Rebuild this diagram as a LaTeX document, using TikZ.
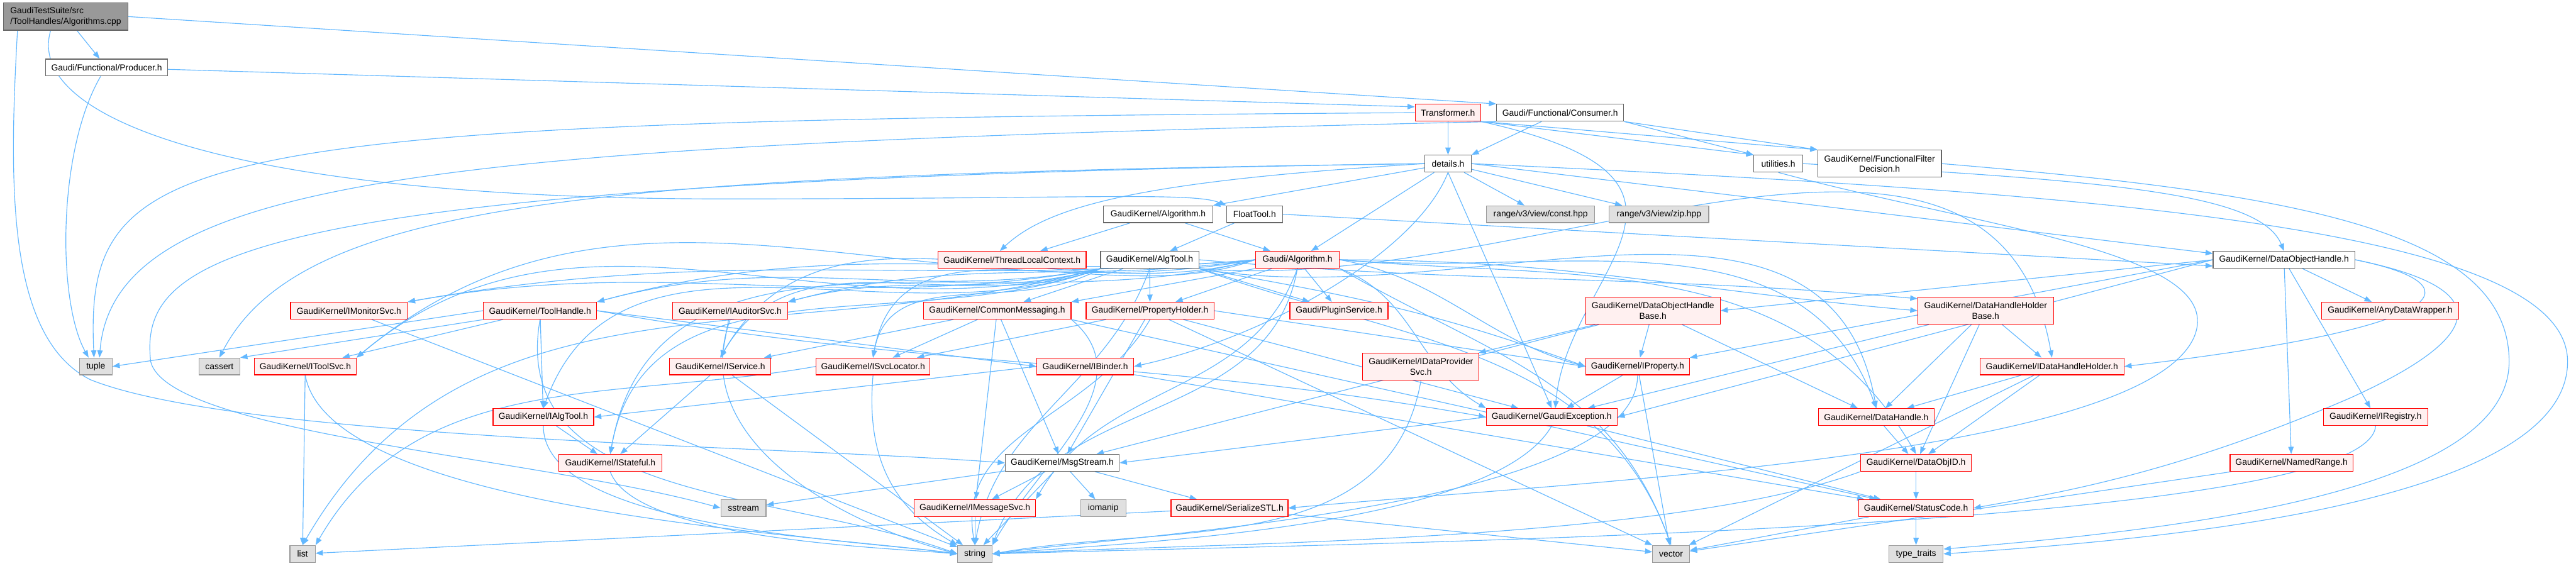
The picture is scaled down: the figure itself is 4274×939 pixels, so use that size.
\documentclass[tikz,border=0pt]{standalone}
\usepackage{fontspec}
\setmainfont{Liberation Sans}
\usetikzlibrary{arrows.meta,backgrounds,calc}
\definecolor{edgec}{HTML}{63B8FF}
\definecolor{redfill}{HTML}{FFF0F0}
\definecolor{grayfill}{HTML}{E0E0E0}
\definecolor{rootfill}{HTML}{999999}
\definecolor{wborder}{HTML}{666666}
\definecolor{gborder}{HTML}{999999}
% curved connector: from, out angle, to, in angle, control distance (pt)
\newcommand\curdep[5]{\draw[dep] (#1) .. controls ($(#1)+(#2:#5pt)$) and ($(#3)+(#4:#5pt)$) .. (#3);}
\begin{document}
\begin{tikzpicture}[x=1pt,y=-1pt,
 nb/.style={rectangle, inner sep=0pt, minimum height=28pt, line width=1.3pt, font=\fontsize{14.5pt}{17pt}\selectfont, align=center},
 wnode/.style={nb, draw=wborder, fill=white},
 rnode/.style={nb, draw=red, fill=redfill},
 gnode/.style={nb, draw=gborder, fill=grayfill},
 rootnode/.style={nb, draw=wborder, fill=rootfill, align=left, minimum height=45pt},
 dep/.style={draw=edgec, line width=1.2pt, -{Triangle[length=12pt,width=9pt]}}
]
\useasboundingbox (0,0) rectangle (4274,939);
% ---------- nodes ----------
\node[rootnode, minimum width=206pt] (root) at (109,27.5) {GaudiTestSuite/src\\/ToolHandles/Algorithms.cpp};
\node[wnode, minimum width=202pt] (prod) at (177,112) {Gaudi/Functional/Producer.h};
\node[rnode, minimum width=109pt] (trans) at (2402.5,187) {Transformer.h};
\node[wnode, minimum width=211pt] (cons) at (2588.5,187) {Gaudi/Functional/Consumer.h};
\node[wnode, minimum width=77pt] (det) at (2402.5,271.5) {details.h};
\node[wnode, minimum width=81pt] (util) at (2950.5,271.5) {utilities.h};
\node[wnode, minimum width=205pt, minimum height=45pt] (ffd) at (3118.5,271.5) {GaudiKernel/FunctionalFilter\\Decision.h};
\node[wnode, minimum width=181pt] (gkalg) at (1921.5,355.5) {GaudiKernel/Algorithm.h};
\node[wnode, minimum width=93pt] (ftool) at (2081.5,355.5) {FloatTool.h};
\node[gnode, minimum width=180pt] (rconst) at (2556,355.5) {range/v3/view/const.hpp};
\node[gnode, minimum width=165pt] (rzip) at (2752.5,355.5) {range/v3/view/zip.hpp};
\node[rnode, minimum width=246pt] (tlc) at (1679,431) {GaudiKernel/ThreadLocalContext.h};
\node[wnode, minimum width=163pt] (algtool) at (1907.5,431) {GaudiKernel/AlgTool.h};
\node[rnode, minimum width=139pt] (galg) at (2152.5,431) {Gaudi/Algorithm.h};
\node[wnode, minimum width=235pt] (doh) at (3789.5,431) {GaudiKernel/DataObjectHandle.h};
\node[rnode, minimum width=194pt] (imon) at (579,515.5) {GaudiKernel/IMonitorSvc.h};
\node[rnode, minimum width=188pt] (thandle) at (896,515.5) {GaudiKernel/ToolHandle.h};
\node[rnode, minimum width=191pt] (iaud) at (1211.5,515.5) {GaudiKernel/IAuditorSvc.h};
\node[rnode, minimum width=245pt] (cmsg) at (1654.5,515.5) {GaudiKernel/CommonMessaging.h};
\node[rnode, minimum width=212pt] (pholder) at (1908,515.5) {GaudiKernel/PropertyHolder.h};
\node[rnode, minimum width=163pt] (plugin) at (2221.5,515.5) {Gaudi/PluginService.h};
\node[rnode, minimum width=223pt, minimum height=45pt] (dohb) at (2742.5,515.5) {GaudiKernel/DataObjectHandle\\Base.h};
\node[rnode, minimum width=225pt, minimum height=45pt] (dhhb) at (3294.5,515.5) {GaudiKernel/DataHandleHolder\\Base.h};
\node[rnode, minimum width=227pt] (adw) at (3965.5,515.5) {GaudiKernel/AnyDataWrapper.h};
\node[gnode, minimum width=54pt] (tuple) at (159,608) {tuple};
\node[gnode, minimum width=68pt] (cassert) at (364,608) {cassert};
\node[rnode, minimum width=169pt] (itsvc) at (506.5,608) {GaudiKernel/IToolSvc.h};
\node[rnode, minimum width=168pt] (iserv) at (1195,608) {GaudiKernel/IService.h};
\node[rnode, minimum width=189pt] (isvcl) at (1448.5,608) {GaudiKernel/ISvcLocator.h};
\node[rnode, minimum width=161pt] (ibind) at (1800.5,608) {GaudiKernel/IBinder.h};
\node[rnode, minimum width=193pt, minimum height=45pt] (idps) at (2357.5,608.5) {GaudiKernel/IDataProvider\\Svc.h};
\node[rnode, minimum width=172pt] (iprop) at (2717,608) {GaudiKernel/IProperty.h};
\node[rnode, minimum width=239pt] (idhh) at (3404.5,608) {GaudiKernel/IDataHandleHolder.h};
\node[rnode, minimum width=167pt] (ialgt) at (901.5,692) {GaudiKernel/IAlgTool.h};
\node[rnode, minimum width=217pt] (gexc) at (2574.5,692) {GaudiKernel/GaudiException.h};
\node[rnode, minimum width=192pt] (dhandle) at (3113,692) {GaudiKernel/DataHandle.h};
\node[rnode, minimum width=173pt] (ireg) at (3941.5,692) {GaudiKernel/IRegistry.h};
\node[rnode, minimum width=171pt] (istate) at (1012.5,768) {GaudiKernel/IStateful.h};
\node[wnode, minimum width=189pt] (msgs) at (1762.5,768) {GaudiKernel/MsgStream.h};
\node[rnode, minimum width=184pt] (doid) at (3179,768) {GaudiKernel/DataObjID.h};
\node[rnode, minimum width=204pt] (nrange) at (3802,768) {GaudiKernel/NamedRange.h};
\node[gnode, minimum width=75pt] (sstream) at (1233.5,843) {sstream};
\node[rnode, minimum width=201pt] (imsgsvc) at (1617.5,843) {GaudiKernel/IMessageSvc.h};
\node[gnode, minimum width=75pt] (iomanip) at (1830.5,843) {iomanip};
\node[rnode, minimum width=194pt] (sstl) at (2040,843) {GaudiKernel/SerializeSTL.h};
\node[rnode, minimum width=190pt] (scode) at (3179,843) {GaudiKernel/StatusCode.h};
\node[gnode, minimum width=42pt] (list) at (502,919) {list};
\node[gnode, minimum width=57pt] (string) at (1617.5,919) {string};
\node[gnode, minimum width=61pt] (vector) at (2772.5,919) {vector};
\node[gnode, minimum width=90pt] (ttraits) at (3179,919) {type\_traits};
% ---------- edges ----------
\begin{scope}[on background layer]
\fill[white] (0,0) rectangle (4274,939);
% root
\draw[dep] (root) -- (prod);
\draw[dep] (root.east) -- (cons.north west);
\draw[dep] ([xshift=-25pt]root.south) .. controls (40,200) and (400,330) .. (1200,330) .. controls (1800,330) and (1980,318) .. (ftool.north west);
\draw[dep] ([xshift=-80pt]root.south) .. controls (15,300) and (10,560) .. (150,630) .. controls (400,730) and (1300,740) .. (msgs.west);
% producer
\draw[dep] (prod) -- (trans.170);
\draw[dep] ([xshift=-10pt]prod.south) .. controls (95,250) and (95,500) .. ([xshift=-12pt]tuple.north);
% transformer
\draw[dep] (trans) -- (det);
\draw[dep] (trans.south east) -- (util.north west);
\draw[dep] (trans.south east) -- (ffd.north west);
\draw[dep] (trans.west) .. controls (300,200) and (140,240) .. ([xshift=-3pt]tuple.north);
\draw[dep] (trans.south east) .. controls (2900,300) and (2600,450) .. ([xshift=6pt]gexc.north);
% consumer
\draw[dep] (cons) -- (det.north east);
\draw[dep] (cons.south east) -- (util.north west);
\draw[dep] (cons.south east) -- (ffd.north west);
\draw[dep] (cons.south west) .. controls (800,240) and (190,280) .. ([xshift=6pt]tuple.north);
% details
\draw[dep] (det) -- (gkalg.north east);
\draw[dep] (det.west) .. controls (1900,300) and (1740,340) .. ([xshift=-20pt]tlc.north);
\draw[dep] (det) -- (galg);
\draw[dep] (det) -- (rconst);
\draw[dep] (det) -- (rzip);
\draw[dep] (det.south) -- (gexc.north);
\draw[dep] (det.east) -- (doh.175);
\draw[dep] (det.west) .. controls (1000,290) and (500,330) .. (cassert.north);
\draw[dep] (det.west) .. controls (400,300) and (230,420) .. (250,600) .. controls (280,720) and (900,760) .. (sstream.west);
\draw[dep] (det.south) .. controls (2350,420) and (2100,560) .. (ibind.east);
\draw[dep] (det.east) .. controls (3500,320) and (4260,380) .. (4260,600) .. controls (4260,850) and (3500,900) .. (ttraits.east);
% utilities
\draw[dep] (util.east) .. controls (3500,300) and (3750,320) .. (doh.north);
\draw[dep] (util.south) .. controls (3300,380) and (3700,420) .. (3640,560) .. controls (3550,760) and (2600,800) .. (sstl.east);
% functional filter decision
\draw[dep] (ffd.east) .. controls (3800,320) and (4163,380) .. (4163,600) .. controls (4163,820) and (3600,880) .. (ttraits.10);
% GaudiKernel/Algorithm.h, FloatTool
\draw[dep] (gkalg) -- (tlc);
\draw[dep] (gkalg) -- (galg);
\draw[dep] (ftool) -- (algtool);
\draw[dep] (ftool.east) -- (doh.185);
% AlgTool
\curdep{algtool.south west}{190}{imon.north east}{10}{450}
\curdep{algtool.south west}{190}{thandle.north east}{15}{330}
\curdep{algtool.south west}{195}{iaud.north east}{15}{200}
\draw[dep] (algtool) -- (cmsg);
\draw[dep] (algtool) -- (pholder);
\draw[dep] (algtool.south east) -- (plugin);
\curdep{algtool.east}{-5}{dhhb.170}{175}{460}
\curdep{algtool.south west}{195}{itsvc.north east}{40}{480}
\curdep{algtool.south west}{200}{iserv.north}{60}{250}
\curdep{algtool.south west}{210}{isvcl.north}{80}{160}
\curdep{algtool.south west}{200}{istate.north}{80}{340}
\curdep{algtool.south west}{200}{ialgt.north}{70}{370}
\curdep{algtool.south east}{-10}{iprop.west}{160}{260}
\curdep{algtool.south east}{-10}{dhandle.north}{100}{450}
\curdep{algtool.south east}{-5}{idhh.north}{100}{550}
\curdep{algtool.south}{250}{string.north}{80}{210}
\curdep{algtool.south east}{-20}{vector.north}{110}{350}
\curdep{algtool.south west}{195}{list.north}{60}{550}
% Gaudi/Algorithm.h
\curdep{galg.west}{185}{imon.north east}{10}{550}
\curdep{galg.west}{185}{thandle.north east}{15}{430}
\curdep{galg.west}{188}{iaud.north east}{15}{300}
\draw[dep] (galg.south west) -- (cmsg.north east);
\draw[dep] (galg) -- (pholder);
\draw[dep] (galg) -- (plugin);
\curdep{galg.east}{0}{dhhb.west}{175}{380}
\curdep{galg.west}{190}{itsvc.north east}{40}{580}
\curdep{galg.west}{195}{iserv.north}{60}{350}
\curdep{galg.west}{200}{isvcl.north}{80}{260}
\curdep{galg.west}{195}{istate.north}{80}{440}
\curdep{galg.east}{-10}{iprop.west}{165}{170}
\curdep{galg.east}{-5}{doid.north}{120}{390}
\curdep{galg.east}{-5}{dhandle.north}{110}{360}
\curdep{galg.south}{250}{imsgsvc.north east}{60}{230}
\curdep{galg.south}{260}{string.north east}{70}{270}
\curdep{galg.south east}{-30}{vector.north}{110}{290}
\curdep{galg.south east}{-20}{gexc.north west}{150}{130}
% DataObjectHandle
\draw[dep] (doh.west) -- (dohb.east);
\draw[dep] (doh) -- (adw);
\draw[dep] (doh) -- (ireg);
\draw[dep] (doh) -- (nrange);
\draw[dep] (doh.west) -- (gexc.east);
\draw[dep] (doh.west) -- (iprop.north east);
\draw[dep] (doh.east) .. controls (4100,470) and (4100,540) .. (idhh.east);
\draw[dep] (doh.east) .. controls (4150,480) and (4120,560) .. (3900,660) .. controls (3600,790) and (3400,820) .. (scode.east);
% second row
\draw[dep] (imon) -- (string);
\draw[dep] (thandle.west) -- (tuple.east);
\draw[dep] (thandle) -- (cassert.north east);
\draw[dep] (thandle) -- (itsvc);
\draw[dep] (thandle) -- (ialgt);
\draw[dep] (thandle.east) -- (ibind.west);
\curdep{thandle.east}{-10}{gexc.west}{170}{580}
\curdep{thandle.south}{-100}{string.west}{160}{310}
\draw[dep] (iaud) -- (iserv);
\curdep{iaud.south}{-110}{string.west}{165}{210}
\draw[dep] (cmsg) -- (iserv);
\draw[dep] (cmsg) -- (isvcl);
\draw[dep] (cmsg) -- (imsgsvc);
\draw[dep] (cmsg) -- (msgs);
\curdep{cmsg.south east}{-40}{string.north east}{60}{160}
\draw[dep] (cmsg.south east) -- (scode);
\draw[dep] (pholder) -- (isvcl);
\draw[dep] (pholder.east) -- (iprop.west);
\draw[dep] (pholder) -- (msgs);
\draw[dep] (pholder) -- (gexc);
\curdep{pholder.south}{-120}{string.north}{100}{190}
\draw[dep] (pholder) -- (vector);
\draw[dep] (dohb) -- (idps);
\draw[dep] (dohb) -- (iprop);
\draw[dep] (dohb) -- (dhandle);
\draw[dep] (dohb) -- (msgs);
\draw[dep] (dhhb) -- (idhh);
\draw[dep] (dhhb) -- (dhandle);
\draw[dep] (dhhb) -- (doid);
\draw[dep] (dhhb) -- (gexc);
% third row
\draw[dep] (itsvc) -- (list);
\curdep{itsvc.south}{-80}{string.west}{172}{230}
\draw[dep] (iserv) -- (istate);
\draw[dep] (iserv) -- (string);
\curdep{isvcl.west}{190}{list.north east}{60}{340}
\curdep{isvcl.south}{-95}{string.north west}{150}{130}
\draw[dep] (ibind.west) -- (ialgt.east);
\draw[dep] (ibind) -- (scode);
\curdep{idps.south}{-100}{string.east}{10}{300}
\draw[dep] (iprop) -- (gexc);
\curdep{iprop.south}{-90}{string.east}{8}{220}
\draw[dep] (iprop) -- (vector);
\draw[dep] (idhh) -- (dhandle);
\draw[dep] (idhh) -- (doid);
\draw[dep] (idhh) -- (vector);
% fourth row and below
\draw[dep] (ialgt) -- (istate);
\curdep{ialgt.south}{-90}{string.west}{172}{170}
\draw[dep] (gexc.west) -- (msgs.east);
\curdep{gexc.south}{-120}{string.east}{5}{200}
\draw[dep] (gexc) -- (scode);
\draw[dep] (dhandle) -- (doid);
\draw[dep] (ireg.south) .. controls (3930,880) and (2300,900) .. (string.east);
\curdep{istate.south}{-70}{string.west}{175}{120}
\draw[dep] (msgs) -- (sstream);
\draw[dep] (msgs) -- (imsgsvc);
\draw[dep] (msgs) -- (iomanip);
\draw[dep] (msgs) -- (sstl);
\draw[dep] (msgs) -- (string);
\draw[dep] (doid) -- (scode);
\curdep{doid.south west}{-160}{string.east}{3}{350}
\draw[dep] (nrange) -- (vector);
\draw[dep] (imsgsvc) -- (string);
\draw[dep] (sstl) -- (list);
\draw[dep] (sstl) -- (vector);
\draw[dep] (scode) -- (ttraits);
\draw[dep] (scode) -- (vector);
\end{scope}
\end{tikzpicture}
\end{document}
